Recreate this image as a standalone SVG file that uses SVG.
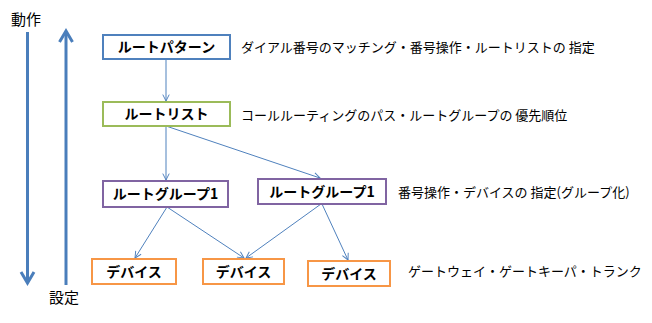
<svg xmlns="http://www.w3.org/2000/svg" width="652" height="323" viewBox="0 0 652 323">
<style>
text{font-family:"Noto Sans CJK JP","Noto Sans",sans-serif;fill:#000}
.lbl{font-size:13px}
.nt{font-size:14px;font-weight:bold;text-anchor:middle}
.box{fill:#fff;stroke-width:2}
.conn{stroke:#4F81BD;stroke-width:1;fill:none;marker-end:url(#ah)}
.big{stroke:#4A7EBB;stroke-width:3;fill:none}
</style>
<defs>
<marker id="ah" viewBox="0 0 10 10" refX="9" refY="5" markerWidth="8" markerHeight="8" markerUnits="userSpaceOnUse" orient="auto">
<polyline points="1,1 9,5 1,9" fill="none" stroke="#4F81BD" stroke-width="1.2"/>
</marker>
</defs>
<rect width="652" height="323" fill="#fff"/>
<g id="axis">
<line class="big" x1="27.5" y1="32" x2="27.5" y2="282"/>
<polyline class="big" points="21,272 27.5,283 34,272"/>
<line class="big" x1="66" y1="34" x2="66" y2="285"/>
<polyline class="big" points="59.5,42 66,31 72.5,42"/>
<text x="11" y="25" style="font-size:15px">動作</text>
<text x="49" y="303" style="font-size:15px">設定</text>
</g>
<g id="connectors">
<line class="conn" x1="166" y1="59" x2="166" y2="101"/>
<line class="conn" x1="166" y1="126" x2="166" y2="180"/>
<line class="conn" x1="166" y1="126" x2="320" y2="178"/>
<line class="conn" x1="167" y1="207" x2="135" y2="258"/>
<line class="conn" x1="167" y1="207" x2="244" y2="258"/>
<line class="conn" x1="321" y1="204" x2="246" y2="258"/>
<line class="conn" x1="322" y1="204" x2="348" y2="260"/>
</g>
<g id="routepattern">
<rect class="box" x="103" y="35" width="127" height="24" stroke="#4F81BD"/>
<text class="nt" x="166.5" y="52">ルートパターン</text>
</g>
<g id="routelist">
<rect class="box" x="103" y="102" width="127" height="24" stroke="#9BBB59"/>
<text class="nt" x="166.5" y="119">ルートリスト</text>
</g>
<g id="routegroup1">
<rect class="box" x="103" y="181" width="125" height="26" stroke="#8064A2"/>
<text class="nt" x="165.5" y="199">ルートグループ1</text>
</g>
<g id="routegroup2">
<rect class="box" x="258" y="179" width="128" height="25" stroke="#8064A2"/>
<text class="nt" x="322" y="197">ルートグループ1</text>
</g>
<g id="device1">
<rect class="box" x="92" y="259" width="84" height="25" stroke="#F79646"/>
<text class="nt" x="134" y="277">デバイス</text>
</g>
<g id="device2">
<rect class="box" x="203" y="259" width="81" height="25" stroke="#F79646"/>
<text class="nt" x="243.5" y="277">デバイス</text>
</g>
<g id="device3">
<rect class="box" x="308" y="261" width="82" height="25" stroke="#F79646"/>
<text class="nt" x="349" y="279">デバイス</text>
</g>
<g id="labels">
<text class="lbl" x="241" y="52">ダイアル番号のマッチング・番号操作・ルートリストの 指定</text>
<text class="lbl" x="241" y="120">コールルーティングのパス・ルートグループの 優先順位</text>
<text class="lbl" x="398" y="197">番号操作・デバイスの 指定(グループ化)</text>
<text class="lbl" x="408" y="276">ゲートウェイ・ゲートキーパ・トランク</text>
</g>
</svg>
